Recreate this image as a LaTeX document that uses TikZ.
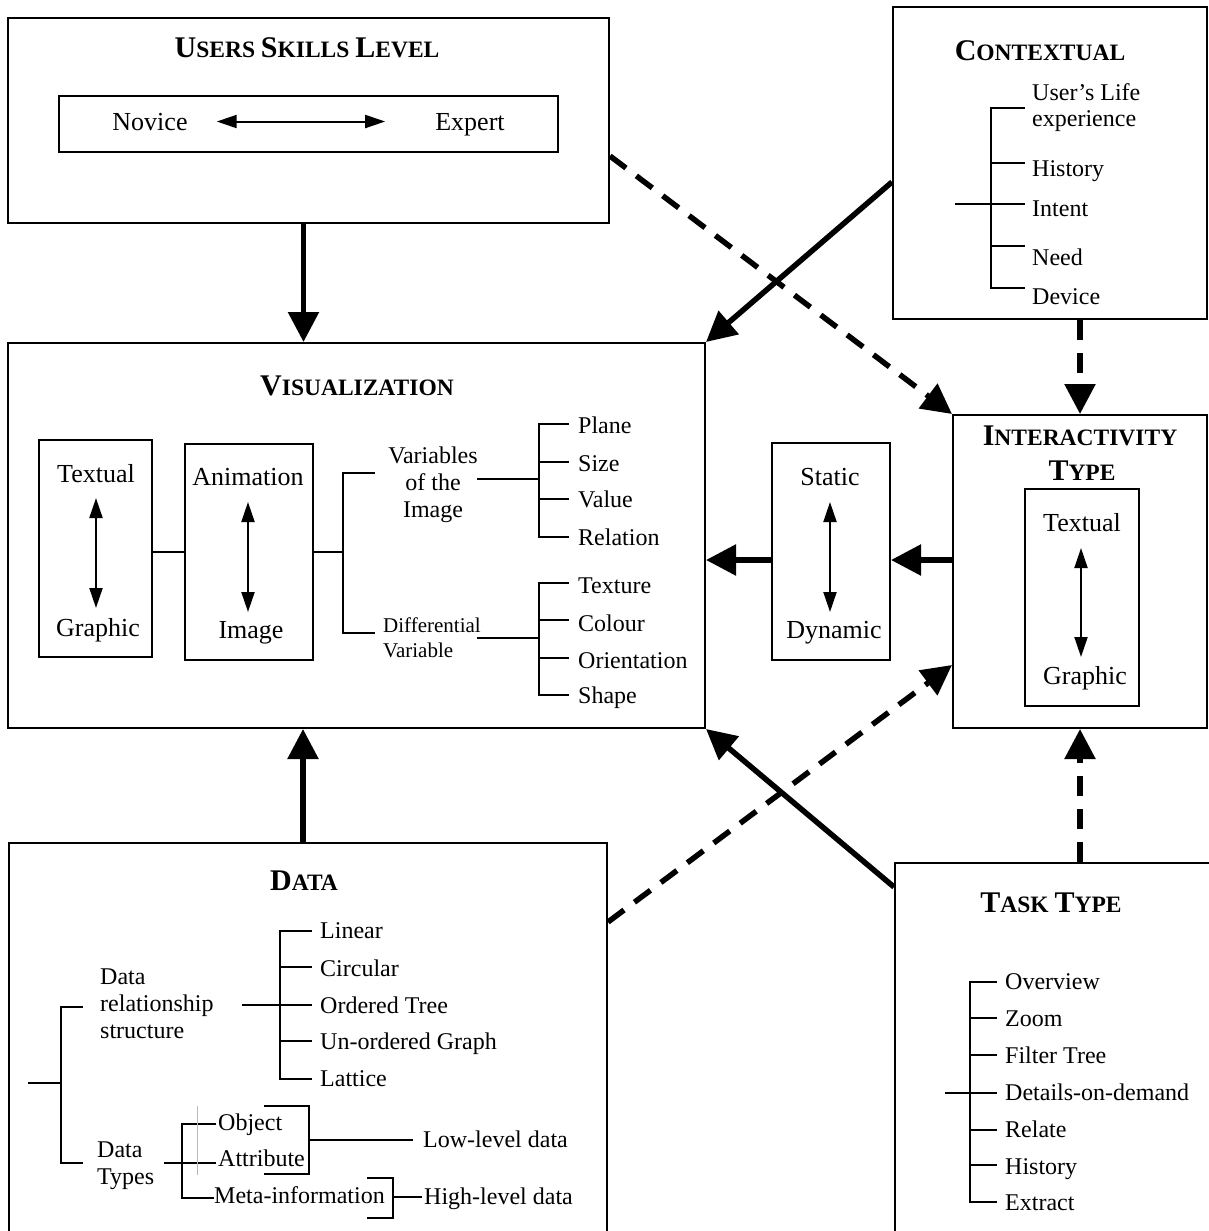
\documentclass[tikz,border=0pt]{standalone}
\usepackage{fontspec}
\setmainfont{Liberation Serif}
\usetikzlibrary{arrows.meta,calc}
\newcommand\ttlcap[2]{{\fontsize{30}{30}\selectfont #1}{\fontsize{23.5}{24}\selectfont #2}}
\newcommand\boxfont{\fontsize{26}{28}\selectfont}
\newcommand\itemfont{\fontsize{24}{27}\selectfont}
\newcommand\smallitemfont{\fontsize{21}{25}\selectfont}
\begin{document}
\begin{tikzpicture}[x=1pt,y=-1pt,
  frame/.style={draw, rectangle, inner sep=0pt, line width=2pt},
  ttl/.style={anchor=base, inner sep=0pt, font=\bfseries\fontsize{23.5}{24}\selectfont},
  lbl/.style={anchor=base, inner sep=0pt, font=\boxfont},
  itm/.style={anchor=base west, inner sep=0pt, font=\itemfont},
  itmc/.style={anchor=base, inner sep=0pt, font=\itemfont},
  sitm/.style={anchor=base west, inner sep=0pt, font=\smallitemfont},
  bigarrow/.style={line width=5.5pt, -{Triangle[length=30pt,width=30pt]}},
  dasharrow/.style={bigarrow, dash pattern=on 20pt off 13pt},
  duo/.style={line width=2pt, {Triangle[length=20pt,width=13pt]}-{Triangle[length=20pt,width=13pt]}},
  tree/.style={line width=2pt}]
\useasboundingbox (0,0) rectangle (1209,1231);

% ---------- boxes ----------
\node[frame, minimum width=601pt, minimum height=205pt] (users) at (308.5,120.5) {};
\node[frame, minimum width=499pt, minimum height=56pt] (usersin) at (308.5,124) {};
\node[frame, minimum width=314pt, minimum height=312pt] (ctx) at (1050,163) {};
\node[frame, minimum width=697pt, minimum height=385pt] (vis) at (356.5,535.5) {};
\node[frame, minimum width=113pt, minimum height=217pt] (tg) at (95.5,548.5) {};
\node[frame, minimum width=128pt, minimum height=216pt] (ai) at (249,552) {};
\node[frame, minimum width=118pt, minimum height=217pt] (sd) at (831,551.5) {};
\node[frame, minimum width=254pt, minimum height=313pt] (inter) at (1080,571.5) {};
\node[frame, minimum width=114pt, minimum height=217pt] (interin) at (1082,597.5) {};
\node[frame, minimum width=598pt, minimum height=397pt] (data) at (308,1041.5) {};
\node[frame, minimum width=320pt, minimum height=377pt] (task) at (1055,1051.5) {};

% ---------- titles ----------
\node[ttl] (usersT) at (307,58) {\ttlcap{U}{SERS} \ttlcap{S}{KILLS} \ttlcap{L}{EVEL}};
\node[ttl] (ctxT) at (1040,60) {\ttlcap{C}{ONTEXTUAL}};
\node[ttl] (visT) at (357,395) {\ttlcap{V}{ISUALIZATION}};
\node[ttl] (interT1) at (1080,445) {\ttlcap{I}{NTERACTIVITY}};
\node[ttl] (interT2) at (1082,480) {\ttlcap{T}{YPE}};
\node[ttl] (dataT) at (304,890) {\ttlcap{D}{ATA}};
\node[ttl] (taskT) at (1051,912) {\ttlcap{T}{ASK} \ttlcap{T}{YPE}};

% ---------- users skills ----------
\node[lbl] (nov) at (150,130) {Novice};
\node[lbl] (exp) at (470,130) {Expert};
\draw[duo] ($(nov.east)+(29,0)$) -- ($(exp.west |- nov.east)+(-50,0)$);

% ---------- contextual ----------
\draw[tree] (955,204) -- (991,204);
\draw[tree] (1025,108) -- (991,108) -- (991,288) -- (1025,288);
\foreach \y in {163,204,246} \draw[tree] (991,\y) -- (1025,\y);
\node[itm] (c1a) at (1032,100) {User’s Life};
\node[itm] (c1b) at (1032,126) {experience};
\node[itm] (c2) at (1032,176) {History};
\node[itm] (c3) at (1032,216) {Intent};
\node[itm] (c4) at (1032,265) {Need};
\node[itm] (c5) at (1032,304) {Device};

% ---------- visualization ----------
\node[lbl] (tgT) at (96,482) {Textual};
\node[lbl] (tgG) at (98,636) {Graphic};
\draw[duo] ($(tgT.base)+(0,16)$) -- ($(tgT.base |- tgG.base)+(0,-28)$);
\node[lbl] (aiA) at (248,485) {Animation};
\node[lbl] (aiI) at (251,638) {Image};
\draw[duo] ($(aiA.base)+(0,17)$) -- ($(aiA.base |- aiI.base)+(0,-26)$);
\draw[tree] (tg.east |- ai.east) -- (ai.west);
\draw[tree] (ai.east) -- (343,552);
\draw[tree] (375,473) -- (343,473) -- (343,633) -- (375,633);

\node[itmc] (v1) at (433,463) {Variables};
\node[itmc] (v2) at (433,490) {of the};
\node[itmc] (v3) at (433,517) {Image};
\draw[tree] (477,479) -- (539,479);
\draw[tree] (569,424) -- (539,424) -- (539,537) -- (569,537);
\foreach \y in {462,499} \draw[tree] (539,\y) -- (569,\y);
\node[itm] (p1) at (578,433) {Plane};
\node[itm] (p2) at (578,471) {Size};
\node[itm] (p3) at (578,507) {Value};
\node[itm] (p4) at (578,545) {Relation};

\node[sitm] (d1) at (383,632) {Differential};
\node[sitm] (d2) at (383,657) {Variable};
\draw[tree] (477,638) -- (539,638);
\draw[tree] (569,583) -- (539,583) -- (539,695) -- (569,695);
\foreach \y in {620,658} \draw[tree] (539,\y) -- (569,\y);
\node[itm] (q1) at (578,593) {Texture};
\node[itm] (q2) at (578,631) {Colour};
\node[itm] (q3) at (578,668) {Orientation};
\node[itm] (q4) at (578,703) {Shape};

% ---------- static / dynamic ----------
\node[lbl] (sdS) at (830,485) {Static};
\node[lbl] (sdD) at (834,638) {Dynamic};
\draw[duo] ($(sdS.base)+(0,17)$) -- ($(sdS.base |- sdD.base)+(0,-26)$);

% ---------- interactivity ----------
\node[lbl] (iT) at (1082,531) {Textual};
\node[lbl] (iG) at (1085,684) {Graphic};
\draw[duo] ($(iT.base)+(-1,17)$) -- ($(iT.base |- iG.base)+(-1,-27)$);

% ---------- data ----------
\draw[tree] (28,1083) -- (61,1083);
\draw[tree] (83,1007) -- (61,1007) -- (61,1163) -- (83,1163);
\node[itm] (dr1) at (100,984) {Data};
\node[itm] (dr2) at (100,1011) {relationship};
\node[itm] (dr3) at (100,1038) {structure};
\draw[tree] (242,1005) -- (280,1005);
\draw[tree] (312,931) -- (280,931) -- (280,1079) -- (312,1079);
\foreach \y in {967,1005,1041} \draw[tree] (280,\y) -- (312,\y);
\node[itm] (l1) at (320,938) {Linear};
\node[itm] (l2) at (320,976) {Circular};
\node[itm] (l3) at (320,1013) {Ordered Tree};
\node[itm] (l4) at (320,1049) {Un-ordered Graph};
\node[itm] (l5) at (320,1086) {Lattice};

\node[itm] (dt1) at (97,1157) {Data};
\node[itm] (dt2) at (97,1184) {Types};
\draw[tree] (164,1163) -- (216,1163);
\draw[tree] (216,1124) -- (182,1124) -- (182,1198) -- (214,1198);
\draw[line width=1pt, gray!55] (197,1106) -- (197,1175);
\node[itm] (o1) at (218,1130) {Object};
\node[itm] (o2) at (218,1166) {Attribute};
\node[itm] (o3) at (214,1203) {Meta-information};
\draw[tree] (264,1106) -- (309,1106) -- (309,1174) -- (264,1174);
\draw[tree] (309,1140) -- (413,1140);
\node[itm] (low) at (423,1147) {Low-level data};
\draw[tree] (367,1178) -- (393,1178) -- (393,1218) -- (367,1218);
\draw[tree] (393,1197) -- (422,1197);
\node[itm] (high) at (424,1204) {High-level data};

% ---------- task type ----------
\draw[tree] (945,1093) -- (970,1093);
\draw[tree] (997,982) -- (970,982) -- (970,1202) -- (997,1202);
\foreach \y in {1018,1055,1093,1130,1165} \draw[tree] (970,\y) -- (997,\y);
\node[itm] (t1) at (1005,989) {Overview};
\node[itm] (t2) at (1005,1026) {Zoom};
\node[itm] (t3) at (1005,1063) {Filter Tree};
\node[itm] (t4) at (1005,1100) {Details-on-demand};
\node[itm] (t5) at (1005,1137) {Relate};
\node[itm] (t6) at (1005,1174) {History};
\node[itm] (t7) at (1005,1210) {Extract};

% ---------- connectors ----------
\coordinate (row) at (0,560);
\draw[bigarrow] ([xshift=-5pt]users.south) -- ([xshift=-5pt]users.south |- vis.north);
\draw[bigarrow] ([xshift=-5pt]data.north) -- ([xshift=-5pt]data.north |- vis.south);
\draw[dasharrow] ([yshift=-35.5pt]users.east) -- (inter.north west);
\draw[bigarrow] ([yshift=-19pt]ctx.west) -- (vis.north east);
\draw[dasharrow] (ctx.south -| inter.north) -- (inter.north);
\draw[dasharrow] (task.north -| inter.south) -- (inter.south);
\draw[bigarrow] ([yshift=-25pt]task.north west) -- (vis.south east);
\draw[dasharrow] ([yshift=-80pt]data.north east) -- ([yshift=64pt]inter.south west);
\draw[bigarrow] (inter.west |- row) -- (sd.east |- row);
\draw[bigarrow] (sd.west |- row) -- (vis.east |- row);
\end{tikzpicture}
\end{document}
